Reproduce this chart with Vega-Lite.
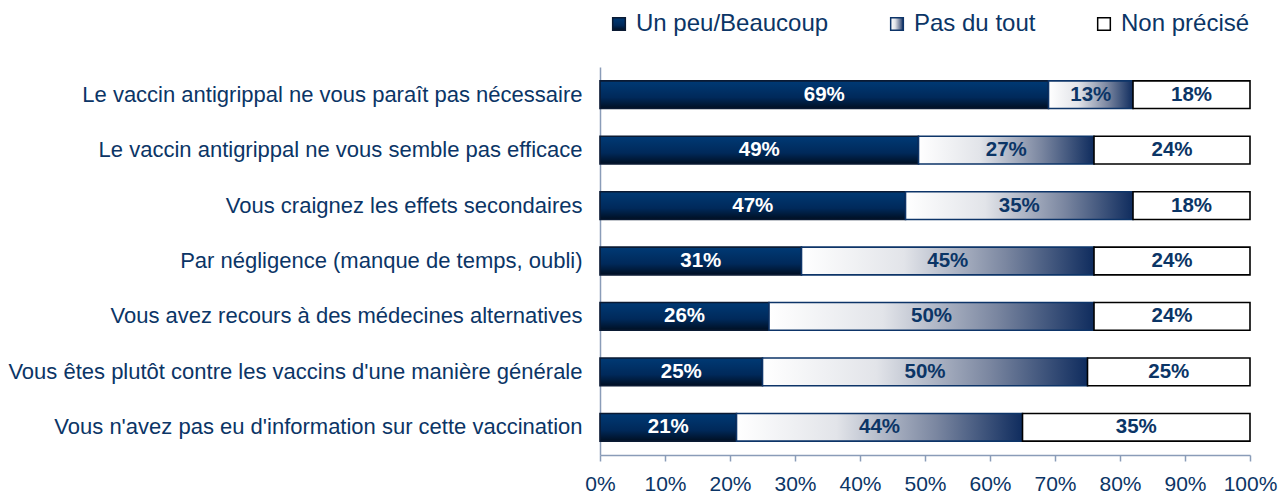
{
  "$schema": "https://vega.github.io/schema/vega-lite/v6.json",
  "width": 650,
  "height": 388,
  "autosize": {"type": "none"},
  "padding": {"left": 600, "top": 67, "right": 28, "bottom": 39},
  "background": "white",
  "config": {
    "view": {"stroke": null},
    "font": "Liberation Sans"
  },
  "data": {
    "values": [
      {"q": "Le vaccin antigrippal ne vous paraît pas nécessaire", "r": "Un peu/Beaucoup", "o": 1, "v": 69},
      {"q": "Le vaccin antigrippal ne vous paraît pas nécessaire", "r": "Pas du tout", "o": 2, "v": 13},
      {"q": "Le vaccin antigrippal ne vous paraît pas nécessaire", "r": "Non précisé", "o": 3, "v": 18},
      {"q": "Le vaccin antigrippal ne vous semble pas efficace", "r": "Un peu/Beaucoup", "o": 1, "v": 49},
      {"q": "Le vaccin antigrippal ne vous semble pas efficace", "r": "Pas du tout", "o": 2, "v": 27},
      {"q": "Le vaccin antigrippal ne vous semble pas efficace", "r": "Non précisé", "o": 3, "v": 24},
      {"q": "Vous craignez les effets secondaires", "r": "Un peu/Beaucoup", "o": 1, "v": 47},
      {"q": "Vous craignez les effets secondaires", "r": "Pas du tout", "o": 2, "v": 35},
      {"q": "Vous craignez les effets secondaires", "r": "Non précisé", "o": 3, "v": 18},
      {"q": "Par négligence (manque de temps, oubli)", "r": "Un peu/Beaucoup", "o": 1, "v": 31},
      {"q": "Par négligence (manque de temps, oubli)", "r": "Pas du tout", "o": 2, "v": 45},
      {"q": "Par négligence (manque de temps, oubli)", "r": "Non précisé", "o": 3, "v": 24},
      {"q": "Vous avez recours à des médecines alternatives", "r": "Un peu/Beaucoup", "o": 1, "v": 26},
      {"q": "Vous avez recours à des médecines alternatives", "r": "Pas du tout", "o": 2, "v": 50},
      {"q": "Vous avez recours à des médecines alternatives", "r": "Non précisé", "o": 3, "v": 24},
      {"q": "Vous êtes plutôt contre les vaccins d'une manière générale", "r": "Un peu/Beaucoup", "o": 1, "v": 25},
      {"q": "Vous êtes plutôt contre les vaccins d'une manière générale", "r": "Pas du tout", "o": 2, "v": 50},
      {"q": "Vous êtes plutôt contre les vaccins d'une manière générale", "r": "Non précisé", "o": 3, "v": 25},
      {"q": "Vous n'avez pas eu d'information sur cette vaccination", "r": "Un peu/Beaucoup", "o": 1, "v": 21},
      {"q": "Vous n'avez pas eu d'information sur cette vaccination", "r": "Pas du tout", "o": 2, "v": 44},
      {"q": "Vous n'avez pas eu d'information sur cette vaccination", "r": "Non précisé", "o": 3, "v": 35}
    ]
  },
  "transform": [
    {"stack": "v", "groupby": ["q"], "sort": [{"field": "o", "order": "ascending"}], "as": ["v0", "v1"]},
    {"calculate": "(datum.v0 + datum.v1) / 2", "as": "vm"},
    {"calculate": "datum.v + '%'", "as": "lbl"}
  ],
  "encoding": {
    "y": {
      "field": "q",
      "type": "nominal",
      "sort": null,
      "scale": {"paddingInner": 0.5, "paddingOuter": 0.25},
      "axis": {
        "title": null,
        "ticks": false,
        "domain": true,
        "domainColor": "#8a9cb8",
        "domainWidth": 1.5,
        "labelFontSize": 22,
        "labelColor": "#0b3566",
        "labelPadding": 18,
        "labelLimit": 700
      }
    }
  },
  "layer": [
    {
      "mark": {"type": "bar", "strokeWidth": 1.6},
      "encoding": {
        "x": {
          "field": "v0",
          "type": "quantitative",
          "scale": {"domain": [0, 100], "nice": false},
          "axis": {
            "title": null,
            "values": [0, 10, 20, 30, 40, 50, 60, 70, 80, 90, 100],
            "labelExpr": "datum.value + '%'",
            "grid": false,
            "domainColor": "#8a9cb8",
            "domainWidth": 1.5,
            "tickColor": "#8a9cb8",
            "tickWidth": 1.5,
            "tickSize": 6,
            "labelFontSize": 21,
            "labelColor": "#0b3566",
            "labelPadding": 12,
            "labelFlush": false
          }
        },
        "x2": {"field": "v1"},
        "fill": {
          "field": "r",
          "type": "nominal",
          "scale": {
            "domain": ["Un peu/Beaucoup", "Pas du tout", "Non précisé"],
            "range": [
              {"expr": "{gradient: 'linear', x1: 0, y1: 0, x2: 0, y2: 1, stops: [{offset: 0, color: '#003a75'}, {offset: 0.6, color: '#00295a'}, {offset: 1, color: '#000f22'}]}"},
              {"expr": "{gradient: 'linear', x1: 0, y1: 0, x2: 1, y2: 0, stops: [{offset: 0, color: '#ffffff'}, {offset: 0.35, color: '#e2e4e9'}, {offset: 0.7, color: '#7a86a0'}, {offset: 1, color: '#0f2c5e'}]}"},
              "#ffffff"
            ]
          },
          "legend": {
            "title": null,
            "orient": "none",
            "direction": "horizontal",
            "legendX": 7,
            "legendY": -55,
            "padding": 0,
            "symbolType": "square",
            "symbolSize": 160,
            "symbolStrokeColor": "#000000",
            "symbolStrokeWidth": 1.5,
            "labelFontSize": 24,
            "labelColor": "#0b3566",
            "labelOffset": 5,
            "columnPadding": 56,
            "labelLimit": 400
          }
        },
        "stroke": {
          "field": "r",
          "type": "nominal",
          "scale": {
            "domain": ["Un peu/Beaucoup", "Pas du tout", "Non précisé"],
            "range": ["#0a1a33", "#0d3468", "#000000"]
          },
          "legend": null
        }
      }
    },
    {
      "mark": {"type": "text", "fontSize": 20.5, "fontWeight": "bold", "baseline": "middle", "align": "center"},
      "encoding": {
        "x": {"field": "vm", "type": "quantitative"},
        "text": {"field": "lbl", "type": "nominal"},
        "color": {
          "condition": {"test": "datum.r === 'Un peu/Beaucoup'", "value": "#ffffff"},
          "value": "#0b3566"
        }
      }
    }
  ]
}
